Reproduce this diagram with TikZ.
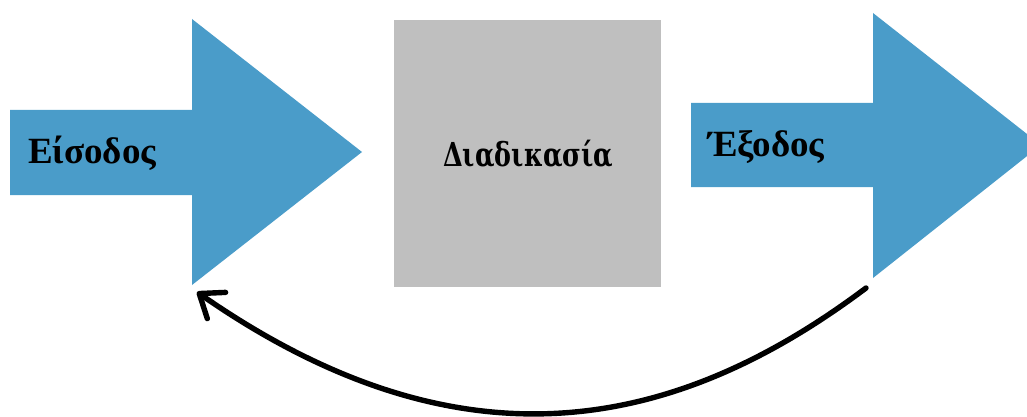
\documentclass[tikz,border=0pt]{standalone}
\usepackage{fontspec}
\setmainfont{Liberation Serif}
\newfontfamily\procfont{DejaVu Serif}
\usetikzlibrary{arrows.meta}
\definecolor{flowblue}{RGB}{74,156,201}
\definecolor{procgrey}{RGB}{191,191,191}
\tikzset{
  flowarrow/.style={fill=flowblue, draw=none},
  procbox/.style={fill=procgrey, draw=none},
  label/.style={inner sep=0pt, anchor=base west, font=\fontsize{37}{42}\selectfont\bfseries},
  feedback/.style={line width=5.4pt, line cap=round,
    -{Straight Barb[length=21pt, width=32pt, round]}}
}
\begin{document}
\begin{tikzpicture}[x=1pt, y=-1pt]
  \useasboundingbox (0,0) rectangle (1027,417);
  \clip (0,0) rectangle (1027,417);

  % input arrow
  \fill[flowarrow] (10,110) -- (192,110) -- (192,19) -- (362,152)
    -- (192,285) -- (192,195) -- (10,195) -- cycle;
  % process block
  \fill[procbox] (394,20) rectangle (661,287);
  % output arrow
  \fill[flowarrow] (691,103) -- (873,103) -- (873,13) -- (1041,145)
    -- (873,278) -- (873,187) -- (691,187) -- cycle;

  \node[label] (in) at (28,163) {Είσοδος};
  \node[label, font=\fontsize{33}{38}\selectfont\procfont\bfseries] (proc) at (443,166)
    {\scalebox{0.77}[1]{Διαδικασία}};
  \node[label] (out) at (708,156) {Έξοδος};

  % feedback loop from output back to input
  \coordinate (outfoot) at (866,288);
  \coordinate (infoot) at (197,292);
  \draw[feedback] (outfoot) .. controls (669,436) and (456,472) .. (infoot);
\end{tikzpicture}
\end{document}
